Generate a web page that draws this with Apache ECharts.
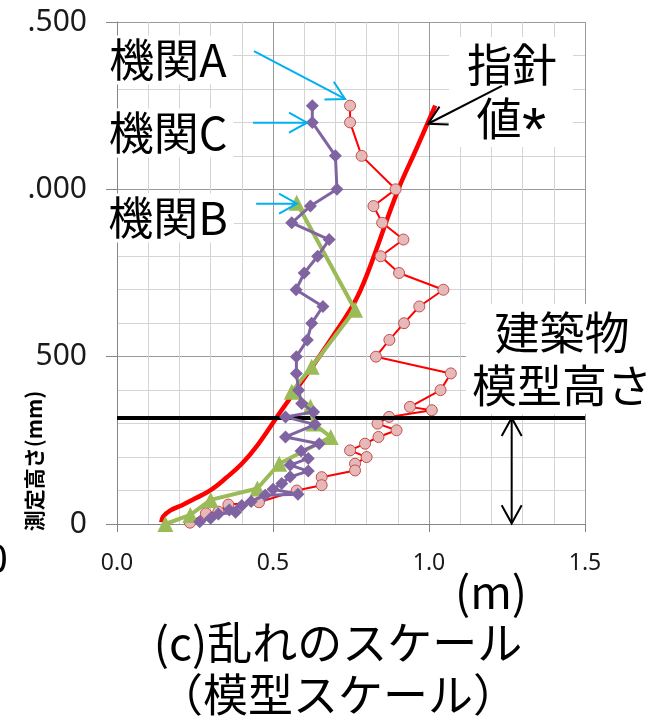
<!DOCTYPE html>
<html><head><meta charset="utf-8">
<script src="https://cdn.jsdelivr.net/npm/echarts@6/dist/echarts.min.js"></script>
<style>html,body{margin:0;padding:0;background:#fff}#c{width:660px;height:719px}</style>
</head><body><div id="c"></div>
<script>
const xTickLabels = ['0.0', '0.5', '1.0', '1.5'];
const yTickLabels = ['0', '500', '.000', '.500'];

// 指針値* (guideline curve) [scale m, height mm]
const guideline = [[0.142, 5], [0.148, 22], [0.17, 40], [0.21, 57], [0.25, 76], [0.30, 101], [0.35, 138],
  [0.40, 180], [0.45, 235], [0.51, 316], [0.55, 370], [0.64, 489], [0.70, 572], [0.76, 660], [0.80, 742],
  [0.90, 996], [0.96, 1122], [1.02, 1250]];

// 機関A
const agencyA = [[0.747, 1250], [0.747, 1200], [0.784, 1100], [0.893, 1000], [0.822, 950], [0.85, 900],
  [0.918, 850], [0.845, 800], [0.904, 750], [1.046, 700], [0.969, 650], [0.92, 600], [0.873, 550],
  [0.83, 500], [1.07, 450], [1.037, 400], [0.939, 350], [1.009, 340], [0.872, 320], [0.835, 300],
  [0.896, 280], [0.838, 260], [0.795, 240], [0.747, 220], [0.80, 200], [0.763, 180], [0.763, 160],
  [0.656, 140], [0.656, 116], [0.576, 100], [0.455, 65], [0.357, 58], [0.325, 37], [0.285, 32], [0.234, 4]];

// 機関B
const agencyB = [[0.576, 960], [0.763, 640], [0.624, 470], [0.56, 395], [0.62, 350], [0.63, 300],
  [0.685, 260], [0.52, 180], [0.45, 106], [0.30, 72], [0.235, 27], [0.155, 0]];

// 機関C
const agencyC = [[0.626, 1250], [0.626, 1200], [0.70, 1100], [0.705, 1000], [0.62, 950], [0.56, 900],
  [0.68, 850], [0.643, 800], [0.60, 750], [0.574, 700], [0.66, 650], [0.624, 600], [0.61, 550],
  [0.575, 500], [0.575, 450], [0.582, 400], [0.592, 360], [0.63, 335], [0.54, 320], [0.635, 297],
  [0.54, 260], [0.648, 240], [0.59, 218], [0.613, 196], [0.555, 176], [0.613, 158], [0.555, 141],
  [0.528, 121], [0.50, 104], [0.58, 89], [0.475, 86], [0.43, 67], [0.40, 55], [0.36, 42], [0.38, 35],
  [0.325, 30], [0.30, 17], [0.265, 7]];

const modelHeight = 317;

const chart = echarts.init(document.getElementById('c'));
const cjk = '"Noto Sans CJK JP", "Noto Sans", sans-serif';

chart.setOption({
  animation: false,
  backgroundColor: '#fff',
  grid: { left: 117, right: 75, top: 22, bottom: 195, containLabel: false },
  xAxis: {
    type: 'value', min: 0, max: 1.5, interval: 0.5,
    axisLine: { show: true, onZero: false, lineStyle: { color: '#868686', width: 1 } },
    axisTick: { show: true, length: 8, lineStyle: { color: '#868686' } },
    axisLabel: { margin: 28, fontSize: 23, color: '#1a1a1a', fontFamily: '"Noto Sans", sans-serif',
      formatter: (v) => xTickLabels[Math.round(v / 0.5)] },
    splitLine: { show: true, lineStyle: { color: '#9a9a9a', width: 1 } },
    minorTick: { show: false, splitNumber: 5 },
    minorSplitLine: { show: true, lineStyle: { color: '#d4d4d4', width: 1 } }
  },
  yAxis: {
    type: 'value', min: 0, max: 1500, interval: 500,
    axisLine: { show: true, lineStyle: { color: '#868686', width: 1 } },
    axisTick: { show: true, length: 11, lineStyle: { color: '#868686' } },
    axisLabel: { margin: 30, fontSize: 30, color: '#1a1a1a', fontFamily: '"Noto Sans", sans-serif',
      formatter: (v) => yTickLabels[Math.round(v / 500)] },
    splitLine: { show: true, lineStyle: { color: '#9a9a9a', width: 1 } },
    minorTick: { show: false, splitNumber: 5 },
    minorSplitLine: { show: true, lineStyle: { color: '#d4d4d4', width: 1 } }
  },
  series: [
    {
      name: '指針値*', type: 'line', data: guideline, smooth: 0.4, symbol: 'none', z: 3,
      lineStyle: { color: '#ff0000', width: 4.5 },
      markLine: {
        silent: true, symbol: ['none', 'none'], animation: false, label: { show: false },
        lineStyle: { color: '#000', width: 4, type: 'solid' },
        data: [[{ coord: [0, modelHeight] }, { coord: [1.5, modelHeight] }]]
      }
    },
    {
      name: '機関A', type: 'line', data: agencyA, symbol: 'circle', symbolSize: 11, z: 4,
      lineStyle: { color: '#ff0000', width: 2 },
      itemStyle: { color: '#e6b9b8', borderColor: '#c0504d', borderWidth: 1 }
    },
    {
      name: '機関B', type: 'line', data: agencyB, symbol: 'triangle', symbolSize: 16, z: 5,
      lineStyle: { color: '#9bbb59', width: 4 },
      itemStyle: { color: '#9bbb59' }
    },
    {
      name: '機関C', type: 'line', data: agencyC, symbol: 'diamond', symbolSize: 13, z: 6,
      lineStyle: { color: '#8064a2', width: 3 },
      itemStyle: { color: '#8064a2' }
    }
  ]
});

function px(p) { return chart.convertToPixel({ gridIndex: 0 }, p); }
function arrow(from, to, color, width, both) {
  const a = px(from), b = px(to);
  const els = [];
  els.push({ type: 'line', shape: { x1: a[0], y1: a[1], x2: b[0], y2: b[1] },
    style: { stroke: color, lineWidth: width }, z: 20 });
  const head = (tip, tail) => {
    const dx = tip[0] - tail[0], dy = tip[1] - tail[1];
    const L = Math.hypot(dx, dy), ux = dx / L, uy = dy / L;
    const back = 18, half = 10;
    const bx = tip[0] - ux * back, by = tip[1] - uy * back;
    return { type: 'polyline', shape: { points: [[bx - uy * half, by + ux * half], tip, [bx + uy * half, by - ux * half]] },
      style: { stroke: color, lineWidth: width, fill: null }, z: 20 };
  };
  els.push(head(b, a));
  if (both) els.push(head(a, b));
  return els;
}
function label(text, x, y, size, extra) {
  return { type: 'text', z: 15, x: x, y: y,
    style: Object.assign({ text: text, font: size + 'px ' + cjk, fill: '#000', align: 'center',
      verticalAlign: 'middle', backgroundColor: '#fff', padding: [2, 6] }, extra || {}) };
}
function plain(text, x, y, font, extra) {
  return { type: 'text', z: 16, x: x, y: y,
    style: Object.assign({ text: text, font: font, fill: '#000', align: 'center', verticalAlign: 'middle' }, extra || {}) };
}

const blue = '#00b0f0';
const gfx = [].concat(
  label('機関A', 168, 60, 45),
  label('機関C', 168, 133, 45),
  label('機関B', 168, 218, 45),
  [{ type: 'rect', z: 14, shape: { x: 449, y: 37, width: 124, height: 110 }, style: { fill: '#fff' } }],
  plain('指針', 512, 65, '45px ' + cjk),
  plain('値', 499, 119, '45px ' + cjk),
  plain('*', 534, 133, '62px "Liberation Sans", sans-serif'),
  label('建築物\n模型高さ', 562, 359, 45, { lineHeight: 53 }),
  arrow([0.439, 1413], [0.731, 1270], blue, 2),
  arrow([0.436, 1199], [0.609, 1199], blue, 2),
  arrow([0.446, 957], [0.577, 957], blue, 2),
  arrow([1.234, 1309], [0.997, 1196], '#000', 2),
  arrow([1.265, modelHeight], [1.265, 2], '#000', 2, true),
  [
    plain('(m)', 491, 592, '45px ' + cjk),
    plain('(c)乱れのスケール', 338, 643, '45px ' + cjk),
    plain('（模型スケール）', 338, 695, '45px ' + cjk),
    { type: 'text', z: 15, x: 34, y: 461, rotation: Math.PI / 2,
      style: { text: '測定高さ(mm)', font: 'bold 21px ' + cjk, fill: '#000', align: 'center', verticalAlign: 'middle' } },
    plain('0', 8, 562, '40px "Noto Sans", sans-serif', { align: 'right' })
  ]
);
chart.setOption({ graphic: gfx });
</script>
</body></html>
